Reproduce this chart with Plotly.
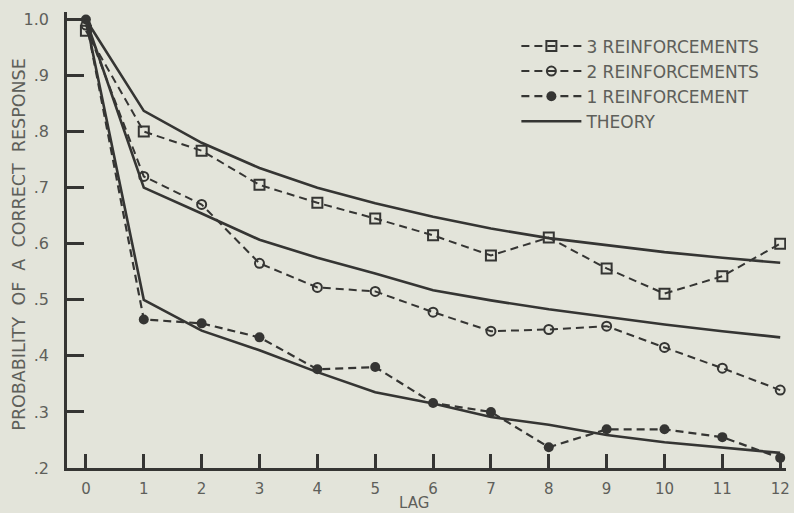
import plotly.graph_objects as go

lags = list(range(13))
x_tick_labels = ["0", "1", "2", "3", "4", "5", "6", "7", "8", "9", "10", "11", "12"]
y_tick_vals = [0.2, 0.3, 0.4, 0.5, 0.6, 0.7, 0.8, 0.9, 1.0]
y_tick_labels = [".2", ".3", ".4", ".5", ".6", ".7", ".8", ".9", "1.0"]

reinf3 = [0.98, 0.80, 0.766, 0.705, 0.673, 0.645, 0.615, 0.579, 0.611, 0.556, 0.511, 0.542, 0.60]
reinf2 = [0.99, 0.72, 0.67, 0.565, 0.522, 0.515, 0.478, 0.444, 0.447, 0.453, 0.415, 0.378, 0.339]
reinf1 = [1.0, 0.465, 0.458, 0.433, 0.376, 0.38, 0.316, 0.30, 0.237, 0.269, 0.269, 0.255, 0.218]

theory3 = [1.0, 0.837, 0.78, 0.735, 0.70, 0.672, 0.648, 0.627, 0.61, 0.597, 0.585, 0.575, 0.566]
theory2 = [1.0, 0.70, 0.654, 0.607, 0.575, 0.547, 0.517, 0.499, 0.483, 0.469, 0.456, 0.444, 0.433]
theory1 = [1.0, 0.50, 0.445, 0.41, 0.371, 0.335, 0.315, 0.291, 0.277, 0.259, 0.246, 0.237, 0.227]

line_col = "#353533"
text_col = "#5e5f5a"
bg = "#e3e4da"
font_fam = "DejaVu Sans"
dash_style = "8px,5px"

fig = go.Figure()

fig.add_trace(go.Scatter(
    x=lags, y=reinf3, mode="lines+markers", name="3 REINFORCEMENTS",
    line=dict(color=line_col, width=2, dash=dash_style),
    marker=dict(symbol="square-open", size=10, color=line_col, line=dict(width=2))))
fig.add_trace(go.Scatter(
    x=lags, y=reinf2, mode="lines+markers", name="2 REINFORCEMENTS",
    line=dict(color=line_col, width=2, dash=dash_style),
    marker=dict(symbol="circle-open", size=9, color=line_col, line=dict(width=2))))
fig.add_trace(go.Scatter(
    x=lags, y=reinf1, mode="lines+markers", name="1 REINFORCEMENT",
    line=dict(color=line_col, width=2.2, dash=dash_style),
    marker=dict(symbol="circle", size=10, color=line_col)))
for i, th in enumerate([theory3, theory2, theory1]):
    fig.add_trace(go.Scatter(
        x=lags, y=th, mode="lines", name="THEORY",
        line=dict(color=line_col, width=2.6),
        legendgroup="theory", showlegend=(i == 0)))

ytitle = "\u00a0\u00a0".join(["PROBABILITY", "OF", "A", "CORRECT", "RESPONSE"])

fig.update_layout(
    width=794, height=513,
    margin=dict(l=67, r=4, t=12, b=45),
    paper_bgcolor=bg, plot_bgcolor=bg,
    font=dict(family=font_fam, color=text_col, size=16),
    legend=dict(
        x=0.625, y=0.964, xanchor="left", yanchor="top",
        bgcolor="rgba(0,0,0,0)", font=dict(size=17, color=text_col),
        tracegroupgap=0, itemwidth=60,
    ),
    xaxis=dict(
        range=[-0.327, 12.1], tickvals=lags, ticktext=x_tick_labels,
        showgrid=False, zeroline=False, showline=True, linecolor=line_col, linewidth=2.5,
        ticks="inside", ticklen=14, tickwidth=2.5, tickcolor=line_col,
        ticklabelstandoff=5, tickfont=dict(size=15, color=text_col),
    ),
    yaxis=dict(
        range=[0.2, 1.0133], tickvals=y_tick_vals, ticktext=y_tick_labels,
        showgrid=False, zeroline=False, showline=True, linecolor=line_col, linewidth=2.5,
        ticks="inside", ticklen=17, tickwidth=2.5, tickcolor=line_col,
        ticklabelstandoff=12, tickfont=dict(size=16, color=text_col),
    ),
    annotations=[
        dict(text=ytitle, xref="paper", yref="paper",
             x=-0.068, y=0.49, xanchor="center", yanchor="middle",
             textangle=-90, showarrow=False,
             font=dict(size=17.5, color=text_col)),
        dict(text="LAG", xref="paper", yref="paper", x=0.482, y=-0.077,
             xanchor="center", yanchor="middle",
             showarrow=False, font=dict(size=15, color=text_col)),
    ],
)

fig.write_html("out.html")
